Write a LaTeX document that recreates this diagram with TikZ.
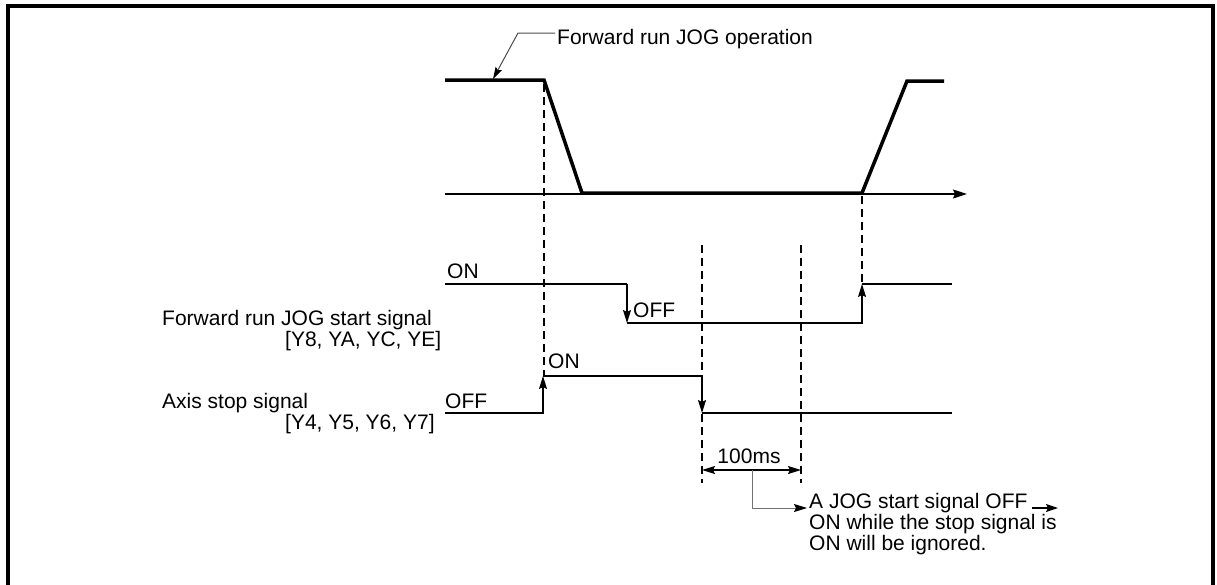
\documentclass[tikz,border=0pt]{standalone}
\usepackage{fontspec}
\setmainfont{Liberation Sans}
\usetikzlibrary{arrows.meta}
\begin{document}
\begin{tikzpicture}[x=1pt,y=-1pt,
  lbl/.style={inner sep=0pt, font=\fontsize{21}{21}\selectfont},
  wave/.style={line width=3.5pt, line join=miter},
  sig/.style={line width=1.3pt},
  guide/.style={line width=1.2pt, dash pattern=on 8pt off 5pt},
  tip/.style={-{Stealth[length=13pt,width=8pt,inset=2pt]}},
  leader/.style={line width=1pt, draw=black!55},
]
\useasboundingbox (0,0) rectangle (1217,584);
\draw[line width=4pt] (8,590) -- (8,6) -- (1213,6) -- (1213,590);

% coordinates
\coordinate (w0) at (445,80);
\coordinate (w1) at (544,80);
\coordinate (w2) at (582,193);
\coordinate (w3) at (862,193);
\coordinate (w4) at (907,81);
\coordinate (w5) at (944,81);
\coordinate (ax0) at (445,194);
\coordinate (ax1) at (967,194);

% guides
\coordinate (g1a) at (544,84);   \coordinate (g1b) at (544,376);
\coordinate (g2a) at (702,245);  \coordinate (g2b) at (702,483);
\coordinate (g3a) at (801,245);  \coordinate (g3b) at (801,483);
\coordinate (g4a) at (862,196);  \coordinate (g4b) at (862,284);
\draw[guide] (g1a) -- (g1b);
\draw[guide] (g2a) -- (g2b);
\draw[guide] (g3a) -- (g3b);
\draw[guide] (g4a) -- (g4b);

% speed waveform
\draw[sig, -{Stealth[length=14pt,width=9pt,inset=2pt]}] (ax0) -- (ax1);
\draw[wave] (w0) -- (w1) -- (w2) -- (w3) -- (w4) -- (w5);

% top label
\node[lbl, anchor=base west] (top) at (557,44) {Forward run JOG operation};
\coordinate (l0) at (555,33);
\coordinate (l1) at (518,33);
\coordinate (l2) at (493,79);
\draw[line width=1pt, draw=black!70, -{Stealth[length=12pt,width=7pt,inset=2pt,color=black]}] (l0) -- (l1) -- (l2);

% start signal
\coordinate (s0) at (445,284);
\coordinate (s1) at (627,284);
\coordinate (s2) at (627,323);
\coordinate (s3) at (862,323);
\coordinate (s4) at (862,284);
\coordinate (s5) at (952,284);
\draw[sig] (s0) -- (s1);
\draw[sig, tip] (s1) -- (s2);
\draw[sig, tip] (s2) -- (s3) -- (s4);
\draw[sig] (s4) -- (s5);

% axis stop signal
\coordinate (a0) at (445,413);
\coordinate (a1) at (543,413);
\coordinate (a2) at (543,376);
\coordinate (a3) at (702,376);
\coordinate (a4) at (702,413);
\coordinate (a5) at (952,413);
\draw[sig, tip] (a0) -- (a1) -- (a2);
\draw[sig, tip] (a2) -- (a3) -- (a4);
\draw[sig] (a4) -- (a5);

% level labels
\node[lbl, anchor=base west] (son) at (447,278) {ON};
\node[lbl, anchor=base west] (soff) at (633,317) {OFF};
\node[lbl, anchor=base west] (aon) at (548,368) {ON};
\node[lbl, anchor=base west] (aoff) at (445,408) {OFF};

% signal names
\node[lbl, anchor=base west] (n1) at (162,325) {Forward run JOG start signal};
\node[lbl, anchor=base west] (n2) at (285,346) {[Y8, YA, YC, YE]};
\node[lbl, anchor=base west] (n3) at (162,408) {Axis stop signal};
\node[lbl, anchor=base west] (n4) at (285,429) {[Y4, Y5, Y6, Y7]};

% 100ms dimension
\coordinate (d0) at (702,470);
\coordinate (d1) at (801,470);
\draw[sig, {Stealth[length=13pt,width=8pt,inset=2pt]}-{Stealth[length=13pt,width=8pt,inset=2pt]}] (d0) -- (d1);
\node[lbl, anchor=base] (ms) at (749,463) {100ms};

% note
\coordinate (e0) at (752,470);
\coordinate (e1) at (752,508);
\coordinate (e2) at (807,508);
\draw[leader, -{Stealth[length=13pt,width=8pt,inset=2pt,color=black]}] (e0) -- (e1) -- (e2);
\node[lbl, anchor=base west, align=left, font=\fontsize{21}{18.5}\selectfont] (note) at (809,550)
  {A JOG start signal OFF\\ON while the stop signal is\\ON will be ignored.};
\coordinate (f0) at (1032,508);
\coordinate (f1) at (1058,508);
\draw[line width=1.6pt, -{Stealth[length=12pt,width=8pt,inset=2pt]}] (f0) -- (f1);
\end{tikzpicture}
\end{document}
